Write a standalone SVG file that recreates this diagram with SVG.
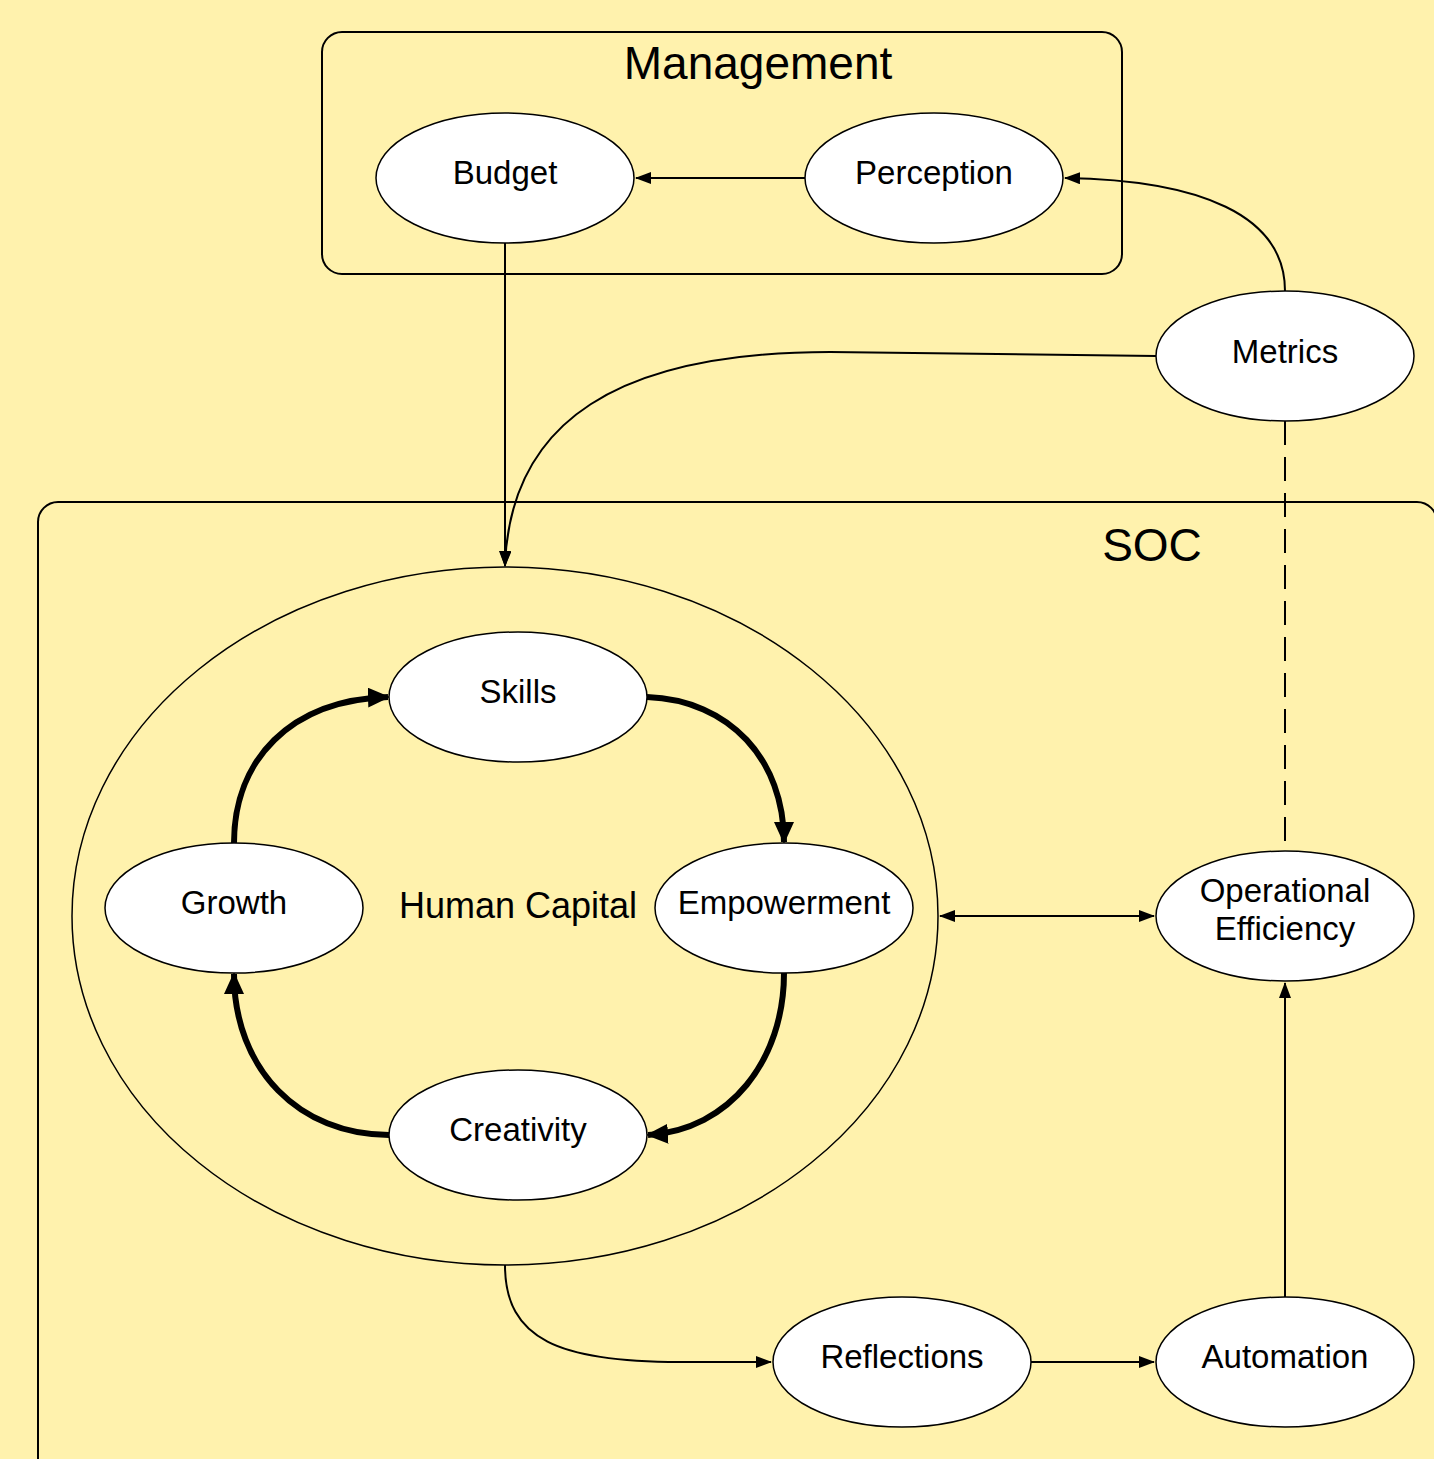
<svg xmlns="http://www.w3.org/2000/svg" width="1434" height="1459" viewBox="0 0 1434 1459">
<style>
.bg{fill:#fff2ad}
.grp{fill:none;stroke:#000;stroke-width:2}
.node{fill:#fff;stroke:#000;stroke-width:1.5}
.lbl{font-family:"Liberation Sans",Arial,sans-serif;font-size:33px;fill:#000;text-anchor:middle}
.title{font-family:"Liberation Sans",Arial,sans-serif;font-size:46px;fill:#000;text-anchor:middle}
.thin{fill:none;stroke:#000;stroke-width:2}
.thick{fill:none;stroke:#000;stroke-width:6}
</style>
<defs>
<marker id="a" markerUnits="userSpaceOnUse" markerWidth="16" markerHeight="12" refX="15" refY="6" orient="auto"><path d="M0,0 L16,6 L0,12 Z" fill="#000"/></marker>
<marker id="as" markerUnits="userSpaceOnUse" markerWidth="16" markerHeight="12" refX="1" refY="6" orient="auto"><path d="M16,0 L0,6 L16,12 Z" fill="#000"/></marker>
<marker id="b" markerUnits="userSpaceOnUse" markerWidth="22" markerHeight="20" refX="20" refY="10" orient="auto"><path d="M0,0 L22,10 L0,20 Z" fill="#000"/></marker>
</defs>
<rect class="bg" x="0" y="0" width="1434" height="1459"/>
<g id="management">
<rect class="grp" x="322" y="32" width="800" height="242" rx="20"/>
<text class="title" x="758" y="79">Management</text>
</g>
<g id="soc">
<rect class="grp" x="38" y="502" width="1399" height="1000" rx="20"/>
<text class="title" x="1152" y="561">SOC</text>
</g>
<g id="human-capital">
<ellipse class="node" cx="505" cy="916" rx="433" ry="349" style="fill:none"/>
<text class="lbl" x="518" y="918" style="font-size:36px">Human Capital</text>
</g>
<g id="connectors">
<path class="thin" d="M805,178 L636,178" marker-end="url(#a)"/>
<path class="thin" d="M1285,291 C1285,215 1200,180 1065,178" marker-end="url(#a)"/>
<path class="thin" d="M505,243 L505,566" marker-end="url(#a)"/>
<path class="thin" d="M1156,356 L830,352 C620,352 510,420 505,566" marker-end="url(#a)"/>
<path class="thin" d="M1285,421 L1285,851" stroke-dasharray="24,12"/>
<path class="thin" d="M940,916 L1154,916" marker-start="url(#as)" marker-end="url(#a)"/>
<path class="thin" d="M1285,1297 L1285,983" marker-end="url(#a)"/>
<path class="thin" d="M1031,1362 L1154,1362" marker-end="url(#a)"/>
<path class="thin" d="M505,1265 C505,1340 560,1362 680,1362 L771,1362" marker-end="url(#a)"/>
<path class="thick" d="M234,843 C234,760 290,700 388,697" marker-end="url(#b)"/>
<path class="thick" d="M647,697 C730,700 784,760 784,842" marker-end="url(#b)"/>
<path class="thick" d="M784,973 C784,1060 730,1130 648,1135" marker-end="url(#b)"/>
<path class="thick" d="M389,1135 C300,1135 234,1070 234,974" marker-end="url(#b)"/>
</g>
<g id="budget"><ellipse class="node" cx="505" cy="178" rx="129" ry="65"/><text class="lbl" x="505" y="184">Budget</text></g>
<g id="perception"><ellipse class="node" cx="934" cy="178" rx="129" ry="65"/><text class="lbl" x="934" y="184">Perception</text></g>
<g id="metrics"><ellipse class="node" cx="1285" cy="356" rx="129" ry="65"/><text class="lbl" x="1285" y="363">Metrics</text></g>
<g id="skills"><ellipse class="node" cx="518" cy="697" rx="129" ry="65"/><text class="lbl" x="518" y="703">Skills</text></g>
<g id="growth"><ellipse class="node" cx="234" cy="908" rx="129" ry="65"/><text class="lbl" x="234" y="914">Growth</text></g>
<g id="empowerment"><ellipse class="node" cx="784" cy="908" rx="129" ry="65"/><text class="lbl" x="784" y="914">Empowerment</text></g>
<g id="creativity"><ellipse class="node" cx="518" cy="1135" rx="129" ry="65"/><text class="lbl" x="518" y="1141">Creativity</text></g>
<g id="operational-efficiency"><ellipse class="node" cx="1285" cy="916" rx="129" ry="65"/><text class="lbl" x="1285" y="902">Operational</text><text class="lbl" x="1285" y="940">Efficiency</text></g>
<g id="reflections"><ellipse class="node" cx="902" cy="1362" rx="129" ry="65"/><text class="lbl" x="902" y="1368">Reflections</text></g>
<g id="automation"><ellipse class="node" cx="1285" cy="1362" rx="129" ry="65"/><text class="lbl" x="1285" y="1368">Automation</text></g>
</svg>
